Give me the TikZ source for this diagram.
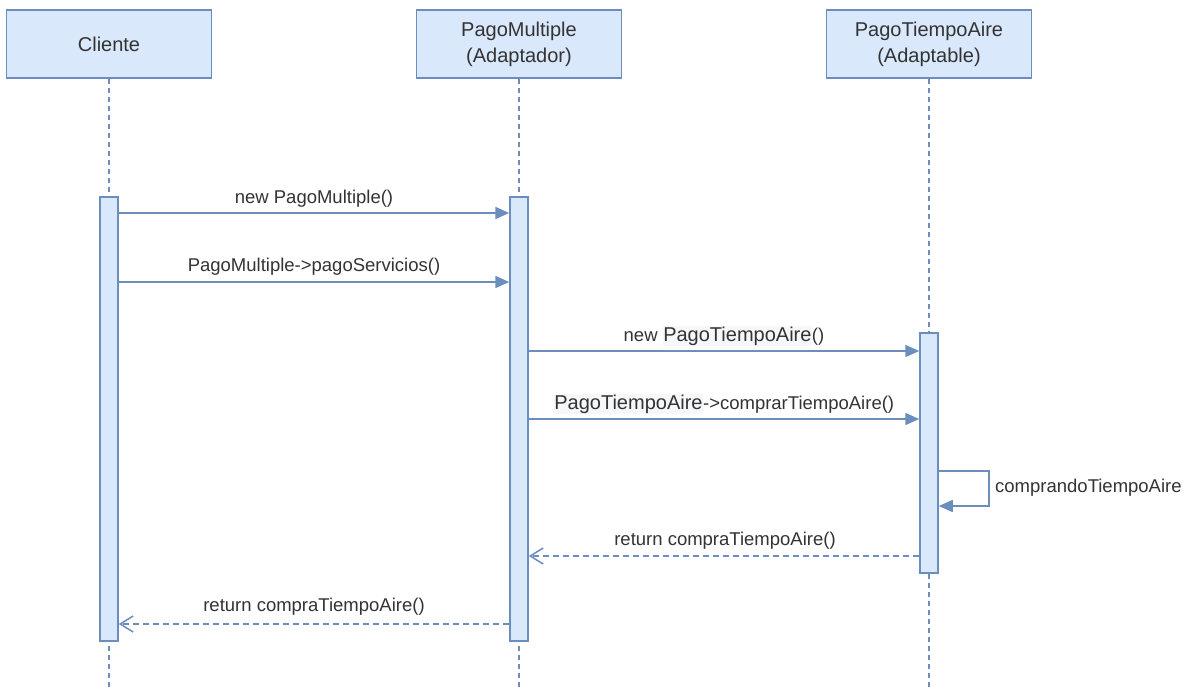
\documentclass[tikz,border=0pt]{standalone}
\usepackage{fontspec}
\setmainfont{Liberation Sans}
\usetikzlibrary{arrows.meta}
\definecolor{boxfill}{HTML}{DAE8FC}
\definecolor{boxline}{HTML}{6C8EBF}
\definecolor{txt}{HTML}{333333}
\definecolor{hl}{HTML}{F6F7F8}
\newcommand{\hlname}[1]{{\setlength\fboxsep{0.5pt}\colorbox{hl}{\fontsize{20}{24}\selectfont #1}}}

\begin{document}
\begin{tikzpicture}[x=1pt,y=-1pt,
  head/.style={draw=boxline, fill=boxfill, line width=1.5pt, minimum width=205pt,
    minimum height=68pt, inner sep=0pt, align=center, text=txt,
    font=\fontsize{20}{26}\selectfont},
  act/.style={draw=boxline, fill=boxfill, line width=1.5pt, minimum width=18pt, inner sep=0pt},
  life/.style={draw=boxline, line width=1.2pt, dash pattern=on 5pt off 4pt},
  call/.style={draw=boxline, line width=1.5pt, -{Triangle[length=14pt,width=12pt]}},
  ret/.style={draw=boxline, line width=1.5pt, dash pattern=on 6pt off 4pt,
    -{Straight Barb[length=13pt,width=16pt]}},
  lbl/.style={text=txt, font=\fontsize{18.5}{22}\selectfont, inner sep=0pt},
]
\fill[white] (0,0) rectangle (1191,689);
\useasboundingbox (0,0) rectangle (1191,689);

% participants
\node[head] (hC) at (109,44) {Cliente};
\node[head] (hM) at (519,44) {PagoMultiple\\(Adaptador)};
\node[head] (hT) at (929,44) {PagoTiempoAire\\(Adaptable)};

% lifelines
\coordinate (endC) at (109,689);
\coordinate (endM) at (519,689);
\coordinate (endT) at (929,689);
\draw[life] (hC.south) -- (endC);
\draw[life] (hM.south) -- (endM);
\draw[life] (hT.south) -- (endT);

% activation bars
\node[act, minimum height=444pt] (aC) at (109,419) {};
\node[act, minimum height=444pt] (aM) at (519,419) {};
\node[act, minimum height=240pt] (aT) at (929,453) {};

% messages
\draw[call] (aC.east |- 0,213) -- (aM.west |- 0,213);
\node[lbl] (l1) at (314,199) {new PagoMultiple()};

\draw[call] (aC.east |- 0,282) -- (aM.west |- 0,282);
\node[lbl] (l2) at (314,267) {PagoMultiple->pagoServicios()};

\draw[call] (aM.east |- 0,351) -- (aT.west |- 0,351);
\node[lbl] (l3) at (724,336) {new \hlname{PagoTiempoAire}()};

\draw[call] (aM.east |- 0,419) -- (aT.west |- 0,419);
\node[lbl] (l4) at (724,404) {\hlname{PagoTiempoAire}->comprarTiempoAire()};

% self call
\draw[call] (aT.east |- 0,471) -- ++(50,0) -- ++(0,35) -- (aT.east |- 0,506);
\node[lbl, anchor=west] (l5) at (995,488) {comprandoTiempoAire};

% returns
\draw[ret] (aT.west |- 0,556) -- (aM.east |- 0,556);
\node[lbl] (l6) at (725,541) {return compraTiempoAire()};

\draw[ret] (aM.west |- 0,624) -- (aC.east |- 0,624);
\node[lbl] (l7) at (314,607) {return compraTiempoAire()};
\end{tikzpicture}
\end{document}
